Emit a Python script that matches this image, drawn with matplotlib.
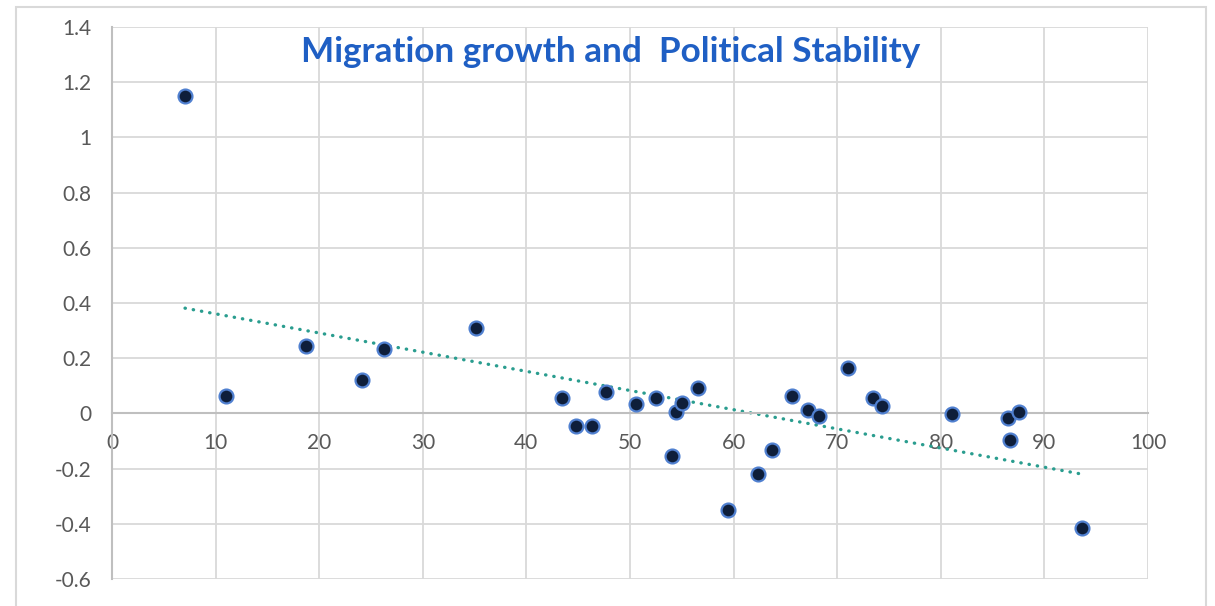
import matplotlib
matplotlib.use('Agg')
import matplotlib.pyplot as plt
from matplotlib.patches import Rectangle
import numpy as np

# data
stability = [7.05, 11.0, 18.7, 24.1, 26.3, 35.1, 43.4, 44.8, 46.3, 47.7,
             50.6, 52.5, 54.1, 54.4, 55.0, 56.6, 59.5, 62.4, 63.7, 65.6,
             67.2, 68.2, 71.0, 73.5, 74.3, 81.1, 86.5, 86.7, 87.5, 93.6]
migration = [1.15, 0.063, 0.244, 0.121, 0.233, 0.309, 0.056, -0.046, -0.046, 0.077,
             0.034, 0.056, -0.154, 0.005, 0.038, 0.092, -0.35, -0.22, -0.133, 0.063,
             0.012, -0.009, 0.165, 0.056, 0.027, -0.002, -0.017, -0.096, 0.005, -0.415]
xticks = [0, 10, 20, 30, 40, 50, 60, 70, 80, 90, 100]
yticks = [-0.6, -0.4, -0.2, 0, 0.2, 0.4, 0.6, 0.8, 1, 1.2, 1.4]
title = 'Migration growth and  Political Stability'

plt.rcParams['font.family'] = ['Lato', 'DejaVu Sans']

fig = plt.figure(figsize=(12.15, 6.06), dpi=100)
ax = fig.add_axes([112/1215, 27/606, (1148-112)/1215, (579-27)/606])

# outer chart border
fig.patches.append(Rectangle((16/1215, -0.1), (1206-16)/1215, (606-7)/606 + 0.1,
                             transform=fig.transFigure, fill=False,
                             edgecolor='#D9D9D9', linewidth=1.5))

ax.set_xlim(0, 100)
ax.set_ylim(-0.6, 1.4)
ax.set_xticks(xticks)
ax.set_yticks(yticks)
ax.set_yticklabels(['%g' % v for v in yticks])
ax.grid(True, color='#D9D9D9', linewidth=1.3)
ax.set_axisbelow(True)

for s in ['top', 'right']:
    ax.spines[s].set_visible(False)
ax.spines['bottom'].set_position(('data', 0))
ax.spines['bottom'].set_color('#BFBFBF')
ax.spines['bottom'].set_linewidth(1.5)
ax.spines['left'].set_color('#BFBFBF')
ax.spines['left'].set_linewidth(1.5)
ax.tick_params(axis='x', length=0, pad=14, labelsize=15, labelcolor='#595959')
ax.tick_params(axis='y', length=0, pad=15, labelsize=15, labelcolor='#595959')

# points
ax.plot(stability, migration, linestyle='none', marker='o', markersize=10,
        markerfacecolor='#0E1E3A', markeredgecolor='#5080D0', markeredgewidth=1.6,
        zorder=3)

# linear trendline
k, b = np.polyfit(stability, migration, 1)
tx = np.array([min(stability), max(stability)])
ax.plot(tx, k * tx + b, color='#2A9D8F', linewidth=2.4, linestyle=(0, (0.1, 2.4)),
        dash_capstyle='round', zorder=2)

fig.text(611/1215, 1 - 52/606, title, ha='center', va='center',
         fontsize=25.3, fontweight='bold', color='#1F5FC4')

fig.savefig('out.png', dpi=100)
